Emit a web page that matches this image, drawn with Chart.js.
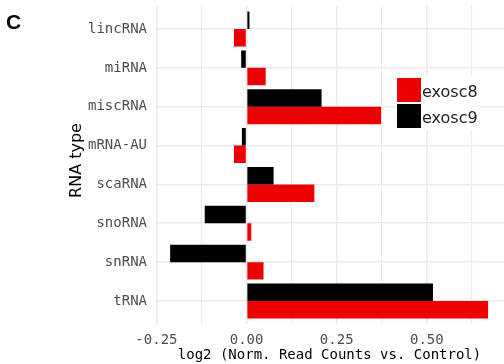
<!DOCTYPE html>
<html><head><meta charset="utf-8">
<script src="https://cdn.jsdelivr.net/npm/chart.js@4"></script>
<style>html,body{margin:0;padding:0;background:#fff;}#wrap{position:relative;width:504px;height:364px;}</style>
</head><body><div id="wrap"><canvas id="c" width="504" height="364"></canvas></div>
<script>
const categories = ['lincRNA','miRNA','miscRNA','mRNA-AU','scaRNA','snoRNA','snRNA','tRNA'];
const exosc9 = [0.008, -0.015, 0.208, -0.013, 0.075, -0.116, -0.212, 0.517];
const exosc8 = [-0.035, 0.053, 0.373, -0.035, 0.188, 0.013, 0.047, 0.670];
const seriesNames = ['exosc8','exosc9'];
const seriesColors = ['#ec0000','#000000'];
const xMajorTicks = [-0.25, 0, 0.25, 0.5];
const xTickLabels = ['-0.25','0.00','0.25','0.50'];
const xMinorTicks = [-0.125, 0.125, 0.375, 0.625];
const panelLabel = 'C';
const xTitle = 'log2 (Norm. Read Counts vs. Control)';
const yTitle = 'RNA type';

const overlay = {
  id: 'overlay',
  afterDraw(chart) {
    const ctx = chart.ctx;
    ctx.save();
    ctx.fillStyle = '#000';
    ctx.font = 'bold 21px "Liberation Sans", Arial, sans-serif';
    ctx.textBaseline = 'alphabetic';
    ctx.textAlign = 'left';
    ctx.fillText(panelLabel, 6, 28.5);
    // y-axis title, rotated
    ctx.save();
    ctx.translate(76.5, 160.5);
    ctx.rotate(-Math.PI / 2);
    ctx.textAlign = 'center';
    ctx.textBaseline = 'middle';
    ctx.font = '16px "DejaVu Sans", sans-serif';
    ctx.fillStyle = '#000';
    ctx.fillText(yTitle, 0, 0);
    ctx.restore();
    // legend
    const lx = 397, ly = 78, sz = 24, gap = 2;
    ctx.fillStyle = '#fff';
    ctx.fillRect(lx - 1, ly - 2, 83, 2 * sz + gap + 4);
    ctx.textAlign = 'left';
    ctx.textBaseline = 'alphabetic';
    seriesNames.forEach((n, i) => {
      const y = ly + i * (sz + gap);
      ctx.fillStyle = seriesColors[i];
      ctx.fillRect(lx, y, sz, sz);
      ctx.fillStyle = '#222';
      ctx.font = '16px "DejaVu Sans", sans-serif';
      ctx.fillText(n, lx + sz + 1, y + 19);
    });
    ctx.restore();
  }
};

const tickFont = {family: '"DejaVu Sans Mono", monospace', size: 14};

new Chart(document.getElementById('c'), {
  type: 'bar',
  data: {
    datasets: [
      {label: 'exosc9', data: categories.map((c, i) => ({x: exosc9[i], y: i})), backgroundColor: seriesColors[1], borderWidth: 0},
      {label: 'exosc8', data: categories.map((c, i) => ({x: exosc8[i], y: i})), backgroundColor: seriesColors[0], borderWidth: 0}
    ]
  },
  options: {
    indexAxis: 'y',
    responsive: false,
    animation: false,
    devicePixelRatio: 1,
    categoryPercentage: 0.9,
    barPercentage: 1.0,
    layout: {padding: {top: 5.7, left: 0, right: 0, bottom: 0}},
    plugins: {legend: {display: false}, tooltip: {enabled: false}},
    scales: {
      x: {
        type: 'linear', min: -0.254, max: 0.714, bounds: 'data', offset: false,
        afterBuildTicks(s) { s.ticks = [...xMajorTicks, ...xMinorTicks].sort((a, b) => a - b).map(v => ({value: v})); },
        afterFit(s) { s.height = 39.7; s.paddingLeft = 0; s.paddingRight = 0; s.paddingTop = 0; s.paddingBottom = 0; },
        grid: {offset: false, color: '#ebebeb', lineWidth: c => (c.tick && xMajorTicks.includes(c.tick.value)) ? 1.6 : 1.1, drawTicks: false},
        border: {display: false},
        ticks: {autoSkip: false, maxRotation: 0, padding: 8, color: '#4d4d4d', font: tickFont,
          callback: v => { const i = xMajorTicks.indexOf(v); return i >= 0 ? xTickLabels[i] : ''; }},
        title: {display: true, text: xTitle, color: '#000', font: tickFont, padding: {top: 0, bottom: 0}}
      },
      y: {
        type: 'linear', reverse: true, min: -0.6, max: 7.6, bounds: 'data', offset: false,
        afterBuildTicks(s) { s.ticks = categories.map((c, i) => ({value: i})); },
        afterFit(s) { s.width = 155; s.paddingLeft = 0; s.paddingRight = 0; s.paddingTop = 0; s.paddingBottom = 0; },
        grid: {offset: false, color: '#ebebeb', lineWidth: 1.6, drawTicks: false},
        border: {display: false},
        ticks: {autoSkip: false, padding: 8, color: '#4d4d4d', font: tickFont,
          callback: v => categories[v] !== undefined ? categories[v] : ''},
        title: {display: false}
      }
    }
  },
  plugins: [overlay]
});
</script></body></html>
